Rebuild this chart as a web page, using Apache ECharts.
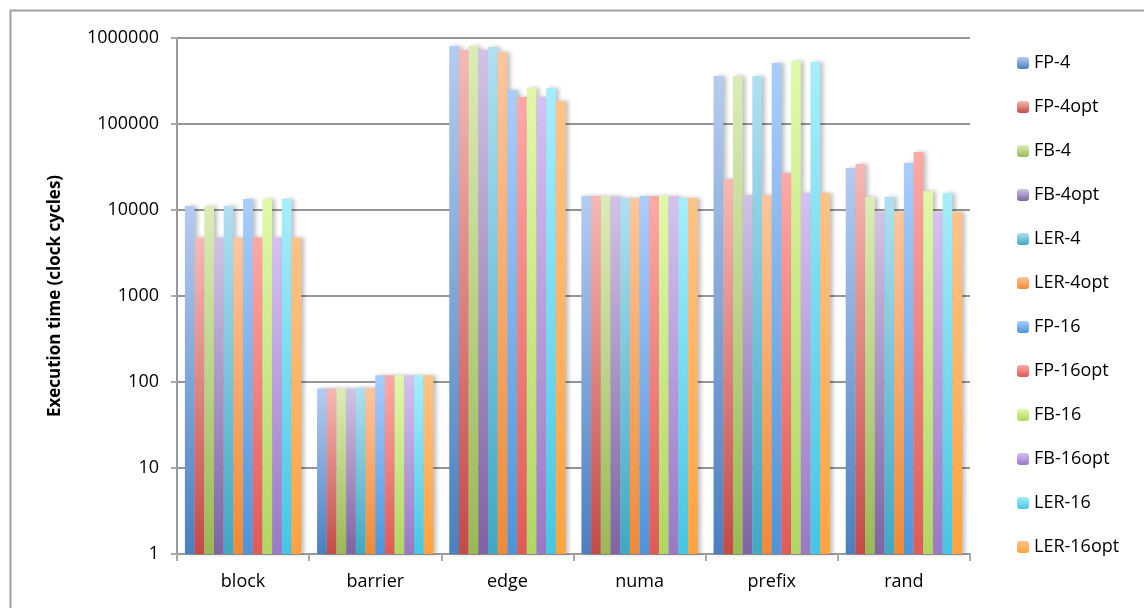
<!DOCTYPE html>
<html>
<head>
<meta charset="utf-8">
<script src="https://cdn.jsdelivr.net/npm/echarts@6/dist/echarts.min.js"></script>
<style>
  html, body { margin: 0; padding: 0; background: #fff; }
  #chart { width: 1144px; height: 608px; }
</style>
</head>
<body>
<div id="chart"></div>
<script>
// categories and tick labels
var benchmarks = ['block', 'barrier', 'edge', 'numa', 'prefix', 'rand'];
var yTicks = [1, 10, 100, 1000, 10000, 100000, 1000000];

// execution time per series (clock cycles)
var fp4      = [11100, 84, 807000, 14500, 361000, 30800];
var fp4opt   = [4800, 84, 724000, 14500, 22900, 34300];
var fb4      = [11100, 84, 807000, 14500, 361000, 14200];
var fb4opt   = [4800, 84, 724000, 14500, 14900, 9500];
var ler4     = [11100, 86, 786000, 13800, 361000, 14200];
var ler4opt  = [4800, 86, 688000, 13800, 14900, 9500];
var fp16     = [13400, 120, 248000, 14500, 512000, 35200];
var fp16opt  = [4800, 120, 206000, 14500, 26900, 47200];
var fb16     = [13400, 120, 262000, 14500, 540000, 16600];
var fb16opt  = [4800, 120, 206000, 14500, 15800, 9500];
var ler16    = [13400, 120, 262000, 13800, 525000, 15800];
var ler16opt = [4800, 120, 185000, 13800, 15800, 9500];

var seriesNames = ['FP-4', 'FP-4opt', 'FB-4', 'FB-4opt', 'LER-4', 'LER-4opt',
                   'FP-16', 'FP-16opt', 'FB-16', 'FB-16opt', 'LER-16', 'LER-16opt'];
var seriesData = [fp4, fp4opt, fb4, fb4opt, ler4, ler4opt,
                  fp16, fp16opt, fb16, fb16opt, ler16, ler16opt];
// gradient top / bottom colours
var topColors = ['#b4ccf1', '#f6b9b6', '#dcecb7', '#d1c3e5', '#afe0f1', '#fec69c',
                 '#a9cdfd', '#fea9a6', '#e0f9a9', '#d5c1f1', '#a7eefc', '#fec387'];
var bottomColors = ['#4a7fc0', '#c44a47', '#9ab955', '#7f63a3', '#3fa8c3', '#f08a35',
                    '#4d94dc', '#e05a55', '#b1d663', '#9a78c6', '#45c6e4', '#ffa33e'];

var font = 'Open Sans';
var chart = echarts.init(document.getElementById('chart'));

var series = [];
for (var i = 0; i < seriesNames.length; i++) {
    series.push({
        name: seriesNames[i],
        type: 'bar',
        data: seriesData[i],
        barGap: '0%',
        barCategoryGap: '12%',
        itemStyle: {
            color: new echarts.graphic.LinearGradient(0, 0, 0, 1, [
                {offset: 0, color: topColors[i]},
                {offset: 1, color: bottomColors[i]}
            ]),
            shadowColor: 'rgba(0,0,0,0.25)',
            shadowBlur: 4,
            shadowOffsetX: 3
        }
    });
}

var option = {
    animation: false,
    backgroundColor: '#fff',
    textStyle: { fontFamily: font },
    graphic: [{
        type: 'rect',
        left: 8, top: 8,
        shape: { width: 1200, height: 700 },
        style: { fill: 'none', stroke: '#a0a0a0', lineWidth: 2 },
        silent: true
    }],
    grid: { left: 177, right: 174, top: 38, bottom: 54 },
    legend: {
        orient: 'vertical',
        left: 1012,
        top: 48,
        itemWidth: 12,
        itemHeight: 12,
        itemGap: 24,
        textStyle: { fontFamily: font, fontSize: 18, color: '#000', lineHeight: 20 },
        data: seriesNames
    },
    xAxis: {
        type: 'category',
        data: benchmarks,
        axisLine: { lineStyle: { color: '#999', width: 2 } },
        axisTick: { show: true, length: 7, lineStyle: { color: '#aaa', width: 2 } },
        axisLabel: { fontFamily: font, fontSize: 18, color: '#000', margin: 19 },
        splitLine: { show: false }
    },
    yAxis: {
        type: 'log',
        logBase: 10,
        min: yTicks[0],
        max: yTicks[yTicks.length - 1],
        name: 'Execution time (clock cycles)',
        nameLocation: 'middle',
        nameGap: 113,
        nameTextStyle: { fontFamily: font, fontSize: 17, fontWeight: 'bold', color: '#000' },
        axisLine: { show: true, lineStyle: { color: '#999', width: 2 } },
        axisTick: { show: true, length: 6, lineStyle: { color: '#aaa', width: 2 } },
        axisLabel: {
            fontFamily: font, fontSize: 18, color: '#000', margin: 18,
            formatter: function (v) { return String(v); }
        },
        splitLine: { show: true, lineStyle: { color: '#959595', width: 2 } }
    },
    series: series
};
chart.setOption(option);
</script>
</body>
</html>
